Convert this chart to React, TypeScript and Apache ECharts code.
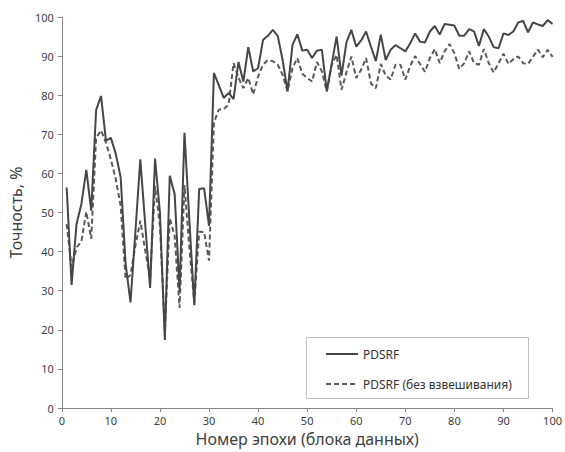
import React, { useEffect, useRef } from "react";
import * as echarts from "echarts";

const xTicks = [0, 10, 20, 30, 40, 50, 60, 70, 80, 90, 100];
const yTicks = [0, 10, 20, 30, 40, 50, 60, 70, 80, 90, 100];

const seriesNames = ["PDSRF", "PDSRF (без взвешивания)"];

// Accuracy per epoch (epochs 1..100)
const pdsrf = [
  56.4, 31.5, 47, 52.2, 60.9, 50.5, 76.2, 79.8, 68.4, 69.1,
  65, 59, 37, 27, 45, 63.6, 47, 30.7, 63.8, 50,
  17.4, 59.4, 54.7, 30, 70.4, 48, 26.3, 56, 56.2, 46.6,
  85.7, 82.5, 79.3, 80.6, 79, 88.5, 83.5, 92.3, 86.1, 86.9,
  94.1, 95.2, 96.7, 95.2, 89, 81, 92.8, 95.6, 91.4, 91.6,
  89.5, 91.4, 91.6, 81, 88, 95, 85, 93.5, 96.7, 92.4,
  94, 96.3, 92.4, 88.7, 95.5, 89, 91.6, 92.8, 92, 91.2,
  93.3, 95.8, 93.7, 93.5, 96.3, 97.7, 95.5, 98.2, 98, 97.8,
  95.2, 95.2, 96.9, 96.3, 92.6, 96.9, 95, 92.3, 92, 95.8,
  95.4, 96.3, 98.6, 99, 96.1, 98.6, 98.1, 97.7, 99.2, 98.2,
];

const pdsrfNoWeight = [
  47, 36, 41, 42.6, 50.2, 43.3, 69.1, 71, 67.9, 63.6,
  58.5, 51.7, 33, 34, 41.5, 47.9, 40.3, 33, 56.8, 46.6,
  19.6, 48.5, 44, 25.6, 57, 41, 27, 45.1, 45, 37.7,
  73, 76.3, 76.5, 77.6, 88.2, 84.5, 81.8, 84.4, 80.2, 84.8,
  87.8, 89, 88.7, 87.8, 85.2, 81, 86.9, 89.5, 85.5, 84.4,
  83.5, 88.5, 86.1, 81, 87.8, 90.3, 81.4, 85.8, 89.9, 84.4,
  86.5, 89.5, 83, 81.8, 88, 85, 84, 87.8, 87.8, 84,
  87.5, 90, 88, 86, 89.5, 91.8, 88.2, 91.2, 93.1, 90.7,
  86.7, 88.2, 91.2, 88.2, 87.8, 91.8, 88.2, 85.8, 88.2, 90.6,
  88, 89.2, 89.9, 88.2, 88, 89.8, 91.7, 89.7, 91.6, 89.8,
];

const FONT = "Noto Sans";

export default function App() {
  const ref = useRef<HTMLDivElement>(null);

  useEffect(() => {
    if (!ref.current) return;
    const chart = echarts.init(ref.current, null, { renderer: "svg" });
    const toPairs = (arr: number[]) => arr.map((v, i) => [i + 1, v]);
    chart.setOption({
      animation: false,
      backgroundColor: "#ffffff",
      grid: { left: 61, right: 10, top: 17, bottom: 42, containLabel: false },
      xAxis: {
        type: "value",
        min: xTicks[0],
        max: xTicks[xTicks.length - 1],
        interval: 10,
        name: "Номер эпохи (блока данных)",
        nameLocation: "middle",
        nameGap: 23,
        nameTextStyle: { fontFamily: FONT, fontSize: 16, color: "#404040" },
        axisLine: { lineStyle: { color: "#868686", width: 1 } },
        axisTick: { show: true, length: 4, lineStyle: { color: "#868686" } },
        axisLabel: { fontFamily: FONT, fontSize: 11, color: "#404040", margin: 7 },
        splitLine: { show: false },
      },
      yAxis: {
        type: "value",
        min: yTicks[0],
        max: yTicks[yTicks.length - 1],
        interval: 10,
        name: "Точность, %",
        nameLocation: "middle",
        nameGap: 34,
        nameTextStyle: { fontFamily: FONT, fontSize: 16, color: "#404040" },
        axisLine: { show: true, lineStyle: { color: "#868686", width: 1 } },
        axisTick: { show: true, length: 4, lineStyle: { color: "#868686" } },
        axisLabel: { fontFamily: FONT, fontSize: 11, color: "#404040", margin: 8 },
        splitLine: { show: false },
      },
      graphic: [
        {
          type: "rect",
          z: 0,
          shape: { x: 306.5, y: 337.5, width: 222, height: 61 },
          style: { fill: "#ffffff", stroke: "#c0c0c0", lineWidth: 1 },
        },
      ],
      legend: {
        orient: "vertical",
        left: 320,
        top: 343,
        itemWidth: 32,
        itemHeight: 12,
        itemGap: 18,
        itemStyle: { opacity: 0 },
        textStyle: { fontFamily: FONT, fontSize: 12, color: "#333333" },
        data: seriesNames,
      },
      series: [
        {
          name: seriesNames[0],
          type: "line",
          data: toPairs(pdsrf),
          symbol: "none",
          lineStyle: { color: "#464646", width: 2 },
          itemStyle: { color: "#464646" },
          z: 3,
        },
        {
          name: seriesNames[1],
          type: "line",
          data: toPairs(pdsrfNoWeight),
          symbol: "none",
          lineStyle: { color: "#595959", width: 2, type: [5, 3] },
          itemStyle: { color: "#595959" },
          z: 2,
        },
      ],
    });
    return () => chart.dispose();
  }, []);

  return (
    <div
      ref={ref}
      style={{ position: "fixed", left: 0, top: 0, width: 565, height: 452, background: "#fff" }}
    />
  );
}
